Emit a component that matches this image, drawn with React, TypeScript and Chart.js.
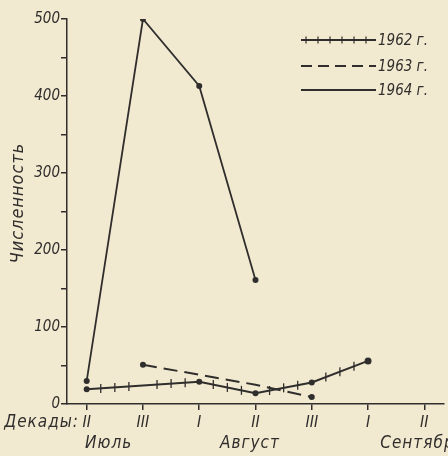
import React, { useEffect, useRef } from "react";
import { Chart, registerables } from "chart.js";

Chart.register(...registerables);

const decadeLabels = ["II", "III", "I", "II", "III", "I", "II"];
const monthLabels = ["Июль", "Август", "Сентябр."];
const monthPositions = [0.39, 2.9, 5.93];
const yTicks = [0, 50, 100, 150, 200, 250, 300, 350, 400, 450, 500];

const x1962 = [0, 1, 2, 3, 4, 5];
const v1962 = [19, 24, 29, 14, 28, 56];
const x1963 = [1, 2, 3, 4];
const v1963 = [51, 38, 25, 9];
const x1964 = [0, 1, 2, 3];
const v1964 = [30, 500, 413, 161];
const seriesNames = ["1962 г.", "1963 г.", "1964 г."];

const INK = "#302e2d";
const BG = "rgb(242,234,208)";
const FONT = "'DejaVu Sans Condensed', 'DejaVu Sans', sans-serif";

const pts = (xs: number[], ys: number[]) => xs.map((x, i) => ({ x, y: ys[i] }));

const bgPlugin = {
  id: "bg",
  beforeDraw(chart: any) {
    const { ctx, width, height } = chart;
    ctx.save();
    ctx.fillStyle = BG;
    ctx.fillRect(0, 0, width, height);
    ctx.restore();
  },
};

const decorPlugin = {
  id: "decor",
  afterDraw(chart: any) {
    const { ctx } = chart;
    const xs = chart.scales.x;
    ctx.save();
    ctx.fillStyle = INK;
    ctx.strokeStyle = INK;
    // cross ticks on 1962 line
    const meta = chart.getDatasetMeta(0);
    const p = meta.data.map((e: any) => ({ x: e.x, y: e.y }));
    ctx.lineWidth = 1.3;
    const step = 14.6;
    for (let i = 0; i < p.length - 1; i++) {
      const a = p[i], b = p[i + 1];
      const n = Math.round((b.x - a.x) / step);
      for (let k = 1; k < n; k++) {
        const t = k / n;
        const x = a.x + (b.x - a.x) * t;
        const y = a.y + (b.y - a.y) * t;
        ctx.beginPath();
        ctx.moveTo(x, y - 4.5);
        ctx.lineTo(x, y + 4.5);
        ctx.stroke();
      }
    }
    // y axis title
    ctx.font = `italic 18px ${FONT}`;
    (ctx as any).letterSpacing = "1px";
    ctx.textAlign = "center";
    ctx.textBaseline = "middle";
    ctx.save();
    ctx.translate(18, 203);
    ctx.rotate(-Math.PI / 2);
    ctx.fillText("Численность", 0, 0);
    ctx.restore();
    // x axis extra labels
    ctx.font = `italic 17px ${FONT}`;
    ctx.textAlign = "right";
    ctx.fillText("Декады:", 79, 423);
    ctx.textAlign = "center";
    monthLabels.forEach((m, i) => {
      ctx.fillText(m, xs.getPixelForValue(monthPositions[i]), 444);
    });
    (ctx as any).letterSpacing = "0px";
    // legend
    const lx0 = 301, lx1 = 376;
    const ly = [40, 66, 90];
    ctx.lineWidth = 1.8;
    ctx.beginPath();
    ctx.moveTo(lx0, ly[0]);
    ctx.lineTo(lx1, ly[0]);
    ctx.stroke();
    ctx.lineWidth = 1.2;
    for (let x = lx0 + 5; x < lx1; x += 12) {
      ctx.beginPath();
      ctx.moveTo(x, ly[0] - 3.5);
      ctx.lineTo(x, ly[0] + 3.5);
      ctx.stroke();
    }
    ctx.lineWidth = 1.8;
    ctx.setLineDash([11, 6]);
    ctx.beginPath();
    ctx.moveTo(lx0, ly[1]);
    ctx.lineTo(lx1, ly[1]);
    ctx.stroke();
    ctx.setLineDash([]);
    ctx.beginPath();
    ctx.moveTo(lx0, ly[2]);
    ctx.lineTo(lx1, ly[2]);
    ctx.stroke();
    ctx.font = `italic 15px ${FONT}`;
    ctx.textAlign = "left";
    seriesNames.forEach((s, i) => ctx.fillText(s, lx1 + 2, ly[i] + 1));
    ctx.restore();
  },
};

export default function App() {
  const ref = useRef<HTMLCanvasElement>(null);
  useEffect(() => {
    if (!ref.current) return;
    const chart = new Chart(ref.current, {
      type: "line",
      data: {
        datasets: [
          {
            label: seriesNames[0],
            data: pts(x1962, v1962),
            borderColor: INK,
            backgroundColor: INK,
            borderWidth: 2,
            pointRadius: [3, 0, 3, 3, 3, 3.5],
            pointBorderWidth: 0,
          },
          {
            label: seriesNames[1],
            data: pts(x1963, v1963),
            borderColor: INK,
            backgroundColor: INK,
            borderWidth: 2,
            borderDash: [14, 7],
            pointRadius: [3, 0, 0, 3],
            pointBorderWidth: 0,
          },
          {
            label: seriesNames[2],
            data: pts(x1964, v1964),
            borderColor: INK,
            backgroundColor: INK,
            borderWidth: 1.8,
            pointRadius: 3,
            pointBorderWidth: 0,
          },
        ],
      },
      options: {
        animation: false,
        responsive: false,
        maintainAspectRatio: false,
        layout: { padding: { top: 19, right: 0, left: 0, bottom: 0 } },
        plugins: { legend: { display: false }, tooltip: { enabled: false } },
        scales: {
          x: {
            type: "linear",
            min: -0.35,
            max: 6.35,
            afterBuildTicks: (s: any) => {
              s.ticks = decadeLabels.map((_, i) => ({ value: i }));
            },
            afterFit: (s: any) => {
              s.height = 52;
            },
            ticks: {
              color: INK,
              font: { family: FONT, size: 16, style: "italic" },
              padding: 3,
              maxRotation: 0,
              autoSkip: false,
              callback: (v: any) => decadeLabels[Math.round(Number(v))] ?? "",
            },
            grid: { drawOnChartArea: false, drawTicks: true, tickLength: 6, color: INK, lineWidth: 1.5 },
            border: { color: INK, width: 1.5 },
          },
          y: {
            type: "linear",
            min: 0,
            max: 500,
            afterBuildTicks: (s: any) => {
              s.ticks = yTicks.map((v) => ({ value: v }));
            },
            afterFit: (s: any) => {
              s.width = 67;
            },
            ticks: {
              color: INK,
              font: { family: FONT, size: 15, style: "italic" },
              padding: 1,
              autoSkip: false,
              callback: (v: any) => (Number(v) % 100 === 0 ? String(v) : ""),
            },
            grid: { drawOnChartArea: false, drawTicks: true, tickLength: 6, color: INK, lineWidth: 1.5 },
            border: { color: INK, width: 1.5 },
          },
        },
      },
      plugins: [bgPlugin, decorPlugin],
    });
    return () => chart.destroy();
  }, []);
  return (
    <div style={{ position: "fixed", left: 0, top: 0, width: 448, height: 456, background: BG }}>
      <canvas ref={ref} width={448} height={456} style={{ display: "block" }} />
    </div>
  );
}
